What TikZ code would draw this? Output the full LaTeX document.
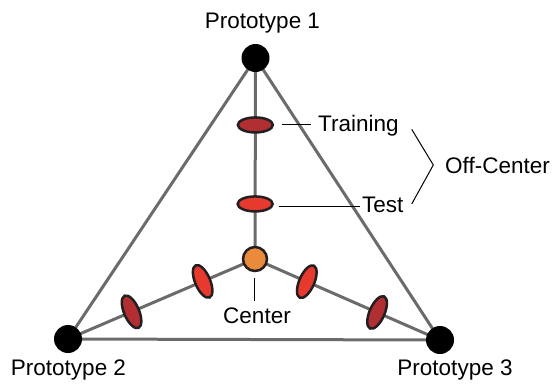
\documentclass[tikz,border=0pt]{standalone}
\usepackage{fontspec}
\setmainfont{Liberation Sans}
\usetikzlibrary{shapes.geometric,calc,backgrounds}
\definecolor{edgegray}{HTML}{6B6B6B}
\definecolor{outline}{HTML}{231F20}
\definecolor{darkred}{HTML}{B12F33}
\definecolor{brightred}{HTML}{E8392F}
\definecolor{centerorange}{HTML}{E98B3A}
\tikzset{
  proto/.style={circle,fill=black,minimum size=28pt,inner sep=0pt},
  blob/.style={ellipse,draw=outline,line width=2.5pt,minimum width=35pt,minimum height=15pt,inner sep=0pt},
  centerdot/.style={circle,draw=outline,line width=2.5pt,fill=centerorange,minimum size=24pt,inner sep=0pt},
  edge/.style={draw=edgegray,line width=3pt},
  thin/.style={draw=black,line width=1pt},
  lbl/.style={inner sep=0pt,text=black}
}
\begin{document}
\begin{tikzpicture}[x=1pt,y=-1pt,font=\fontsize{22.5}{25}\selectfont]
\useasboundingbox (0,0) rectangle (554,384);
% prototypes and center
\node[proto] (p1) at (255.5,58) {};
\node[proto] (p2) at (68,339) {};
\node[proto] (p3) at (440,340) {};
\node[centerdot] (c) at (255,259) {};
% ellipses
\node[blob,fill=brightred] (test) at ($(c)!0.274!(p1)$) {};
\node[blob,fill=darkred] (train) at ($(c)!0.667!(p1)$) {};
\node[blob,fill=brightred,rotate=113.2] (l1) at ($(c)!0.28!(p2)$) {};
\node[blob,fill=darkred,rotate=113.2] (l2) at ($(c)!0.66!(p2)$) {};
\node[blob,fill=brightred,rotate=66.4] (r1) at ($(c)!0.28!(p3)$) {};
\node[blob,fill=darkred,rotate=66.4] (r2) at ($(c)!0.66!(p3)$) {};
% edges behind
\begin{pgfonlayer}{background}
\path[edge] (p1.center) -- (p2.center) -- (p3.center) -- cycle;
\path[edge] (p1.center) -- (c.center);
\path[edge] (c.center) -- (p2.center);
\path[edge] (c.center) -- (p3.center);
\end{pgfonlayer}
% labels
\node[lbl,anchor=base] (t1) at (262.5,28) {Prototype 1};
\node[lbl,anchor=base] (t2) at (68.5,375) {Prototype 2};
\node[lbl,anchor=base] (t3) at (455,375) {Prototype 3};
\node[lbl,anchor=base west,inner xsep=7pt] (trl) at (311,131.5) {Training};
\node[lbl,anchor=base west,inner xsep=2pt] (tel) at (360,212.5) {Test};
\node[lbl,anchor=base west] (ocl) at (445,173) {Off-Center};
\node[lbl,anchor=base] (cl) at (257,323) {Center};
% leader lines
\coordinate (trA) at (282,124);
\draw[thin] (trA) -- (trA -| trl.west);
\coordinate (teA) at (279,206);
\draw[thin] (teA) -- (teA -| tel.west);
\coordinate (cB) at (254,301);
\draw[thin] (254,278) coordinate (cA) (cA) -- (cB);
% brace
\coordinate (bT) at (411.7,129.3);
\coordinate (bM) at (433.3,165);
\coordinate (bB) at (411.7,204);
\draw[thin] (bT) -- (bM) -- (bB);
\end{tikzpicture}
\end{document}
